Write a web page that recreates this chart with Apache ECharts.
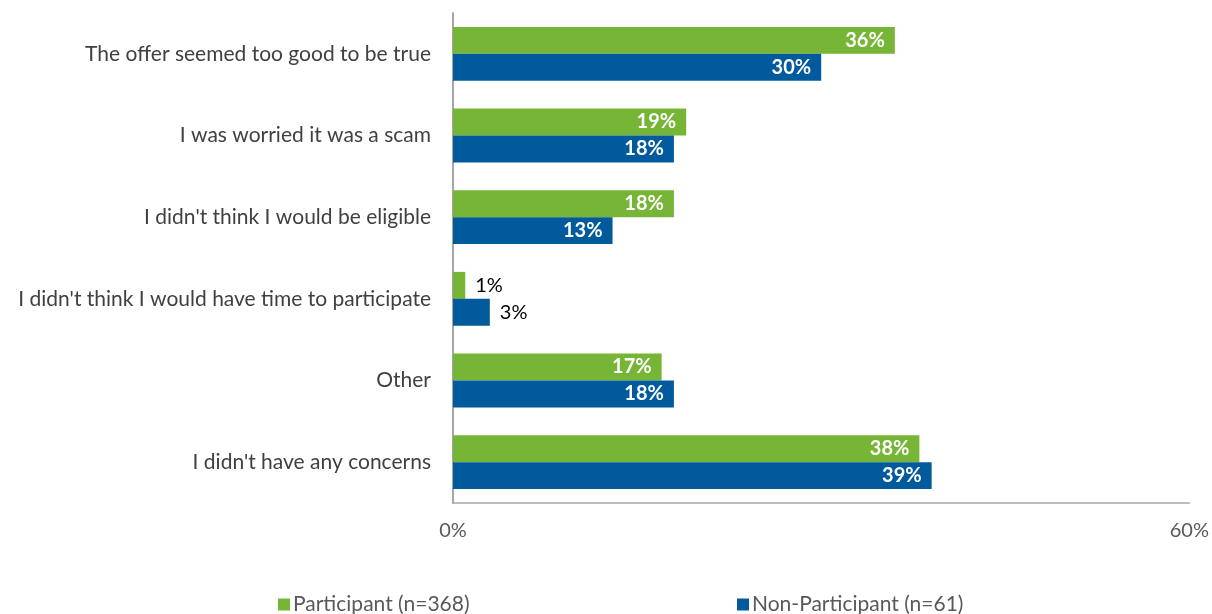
<!DOCTYPE html>
<html>
<head>
<meta charset="utf-8">
<script src="https://cdn.jsdelivr.net/npm/echarts@6/dist/echarts.min.js"></script>
<style>
  html, body { margin: 0; padding: 0; background: #fff; }
  #chart { width: 1212px; height: 614px; }
</style>
</head>
<body>
<div id="chart"></div>
<script>
// Reasons for hesitation, by respondent group (percent of respondents)
const categories = [
  "The offer seemed too good to be true",
  "I was worried it was a scam",
  "I didn't think I would be eligible",
  "I didn't think I would have time to participate",
  "Other",
  "I didn't have any concerns"
];
const participantValues = [36, 19, 18, 1, 17, 38];
const nonParticipantValues = [30, 18, 13, 3, 18, 39];
const seriesNames = ["Participant (n=368)", "Non-Participant (n=61)"];
const axisTicks = [0, 60];

const GREEN = "#76b536";
const BLUE = "#005a9c";
const FONT = "Lato";

// small values get their label outside the bar in dark text
function withLabels(values) {
  return values.map(v => v < 5
    ? { value: v, label: { position: "right", distance: 10, color: "#000", fontWeight: "normal" } }
    : { value: v });
}

const valueLabel = {
  show: true, position: "insideRight", distance: 10, formatter: "{c}%",
  color: "#fff", fontWeight: "bold", fontSize: 20, fontFamily: FONT
};

const legendText = { color: "#595959", fontSize: 21, fontFamily: FONT, padding: [0, 0, 0, -2] };

const chart = echarts.init(document.getElementById("chart"));
chart.setOption({
  animation: false,
  textStyle: { fontFamily: FONT },
  grid: { left: 453, right: 22, top: 13, bottom: 111, containLabel: false },
  xAxis: {
    type: "value",
    min: axisTicks[0],
    max: axisTicks[1],
    interval: axisTicks[1] - axisTicks[0],
    splitLine: { show: false },
    axisLine: { show: true, lineStyle: { color: "#a6a6a6", width: 1.5 } },
    axisTick: { show: false },
    axisLabel: { formatter: "{value}%", color: "#595959", fontSize: 20, margin: 18, fontFamily: FONT }
  },
  yAxis: {
    type: "category",
    inverse: true,
    data: categories,
    axisLine: { show: true, lineStyle: { color: "#a6a6a6", width: 2 } },
    axisTick: { show: false },
    axisLabel: { color: "#404040", fontSize: 21, margin: 22, fontFamily: FONT }
  },
  legend: [
    {
      data: [seriesNames[0]], left: 273, top: 589, itemWidth: 12, itemHeight: 12, itemGap: 0,
      icon: "rect", textStyle: legendText
    },
    {
      data: [seriesNames[1]], left: 732, top: 589, itemWidth: 12, itemHeight: 12, itemGap: 0,
      icon: "rect", textStyle: legendText
    }
  ],
  series: [
    {
      name: seriesNames[0], type: "bar", data: withLabels(participantValues),
      itemStyle: { color: GREEN }, barWidth: "33%", barGap: "0%", label: valueLabel
    },
    {
      name: seriesNames[1], type: "bar", data: withLabels(nonParticipantValues),
      itemStyle: { color: BLUE }, barWidth: "33%", barGap: "0%", label: valueLabel
    }
  ]
});
</script>
</body>
</html>
